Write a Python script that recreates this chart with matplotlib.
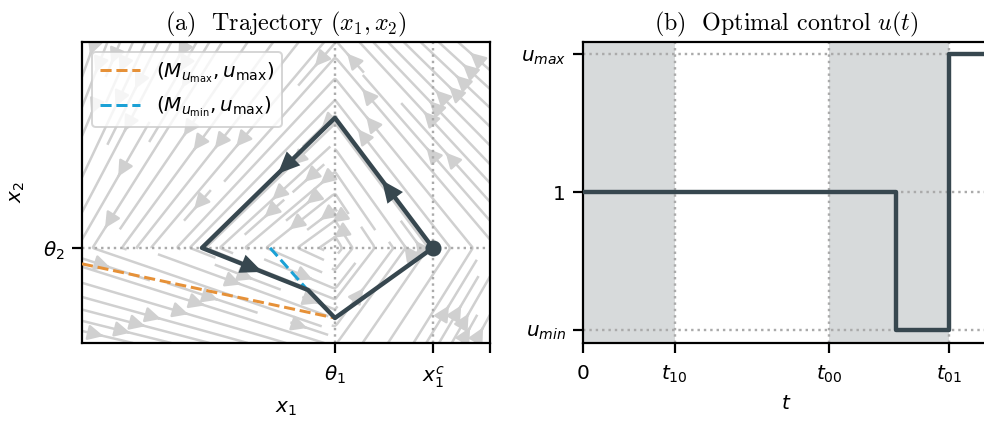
import numpy as np
import matplotlib
matplotlib.use("Agg")
import matplotlib.pyplot as plt

# thresholds and levels
theta1, theta2 = 0.62, 0.316
x1c = 0.86
u_min, u_one, u_max = 0.5, 1.0, 1.5

# closed trajectory in the (x1, x2) plane
traj_x1 = [0.86, 0.62, 0.294, 0.554, 0.62, 0.86]
traj_x2 = [0.316, 0.748, 0.316, 0.176, 0.083, 0.316]

# switching curves
m_umax_x1 = [0.0, 0.62]
m_umax_x2 = [0.263, 0.083]
m_umin_x1 = [0.461, 0.551]
m_umin_x2 = [0.316, 0.179]

# control switching times
t10, t00, t_sw, t01 = 0.226, 0.607, 0.771, 0.902
t_end = 1.0

# focal points of the piecewise-affine field (u = 1)
fa, fb, fc, fd = -0.4, -0.6, 2.58, 2.0

dark = "#37474F"
c_orange = "#E69138"
c_blue = "#1BA1D6"
c_grid = "#aaaaaa"

fig = plt.figure(figsize=(984 / 144, 423 / 144), dpi=144)
ax1 = fig.add_axes([82 / 984, 80 / 423, 408 / 984, 301 / 423])
ax2 = fig.add_axes([583 / 984, 80 / 423, 406 / 984, 301 / 423])

# --- (a) phase plane ---
g1, g2 = np.meshgrid(np.linspace(0, 1, 300), np.linspace(0, 1, 300))
f1 = np.where(g2 < theta2, fd, fa) - g1
f2 = np.where(g1 > theta1, fc, fb) - g2
ax1.streamplot(g1, g2, f1, f2, color="#d0d0d0", linewidth=1.25,
               arrowsize=1.6, density=1.1, zorder=1)

ax1.axvline(theta1, color=c_grid, ls=":", lw=1.2, zorder=2)
ax1.axvline(x1c, color=c_grid, ls=":", lw=1.2, zorder=2)
ax1.axhline(theta2, color=c_grid, ls=":", lw=1.2, zorder=2)

ax1.plot(m_umax_x1, m_umax_x2, ls="--", color=c_orange, lw=1.5, zorder=3,
         label=r"$(M_{u_{\mathrm{max}}}, u_{\mathrm{max}})$")
ax1.plot(m_umin_x1, m_umin_x2, ls="--", color=c_blue, lw=1.5, zorder=3,
         label=r"$(M_{u_{\mathrm{min}}}, u_{\mathrm{max}})$")
ax1.plot(traj_x1, traj_x2, color=dark, lw=2.2, zorder=4)
ax1.plot(traj_x1[0], traj_x2[0], "o", color=dark, ms=7, zorder=5)

# direction arrows on the first three legs
for i, frac in [(0, 0.52), (1, 0.43), (2, 0.57)]:
    xa, ya = traj_x1[i], traj_x2[i]
    xb, yb = traj_x1[i + 1], traj_x2[i + 1]
    tip = (xa + frac * (xb - xa), ya + frac * (yb - ya))
    tail = (xa + (frac - 0.05) * (xb - xa), ya + (frac - 0.05) * (yb - ya))
    ax1.annotate("", xy=tip, xytext=tail, zorder=5,
                 arrowprops=dict(arrowstyle="-|>,head_length=0.5,head_width=0.22",
                                 color=dark, lw=0,
                                 mutation_scale=22, shrinkA=0, shrinkB=0))

ax1.set_xlim(0, 1)
ax1.set_ylim(0, 1)
ax1.set_xticks([theta1, x1c, 1.0])
ax1.set_xticklabels([r"$\theta_1$", r"$x_1^c$", ""])
ax1.set_yticks([theta2])
ax1.set_yticklabels([r"$\theta_2$"])
ax1.set_xlabel(r"$x_1$", labelpad=4.5)
ax1.set_ylabel(r"$x_2$", labelpad=8)
ax1.legend(loc="upper left", handlelength=2.0)
ax1.set_title(r"(a)  Trajectory $(x_1, x_2)$", fontfamily="cmr10",
              math_fontfamily="cm")

# --- (b) control ---
ax2.axvspan(0, t10, color=dark, alpha=0.2, lw=0)
ax2.axvspan(t00, t01, color=dark, alpha=0.2, lw=0)
for yv in [u_min, u_one, u_max]:
    ax2.axhline(yv, color=c_grid, ls=":", lw=1.2, zorder=1)
for xv in [t10, t00, t01]:
    ax2.axvline(xv, color=c_grid, ls=":", lw=1.2, zorder=1)

t_steps = [0, t_sw, t_sw, t01, t01, t_end]
u_steps = [u_one, u_one, u_min, u_min, u_max, u_max]
ax2.plot(t_steps, u_steps, color=dark, lw=2.2, zorder=3)

ax2.set_xlim(0, t_end)
ax2.set_ylim(0.453, 1.545)
ax2.set_xticks([0, t10, t00, t01])
ax2.set_xticklabels(["0", r"$t_{10}$", r"$t_{00}$", r"$t_{01}$"])
ax2.set_yticks([u_min, u_one, u_max])
ax2.set_yticklabels([r"$u_{min}$", "1", r"$u_{max}$"])
ax2.set_xlabel(r"$t$", labelpad=4.5)
ax2.set_title(r"(b)  Optimal control $u(t)$", fontfamily="cmr10",
              math_fontfamily="cm")

for ax in (ax1, ax2):
    ax.tick_params(length=5, width=1.1)
    ax.tick_params(axis="x", pad=5.5)
    for s in ax.spines.values():
        s.set_linewidth(1.1)

fig.savefig("out.png", dpi=144)
